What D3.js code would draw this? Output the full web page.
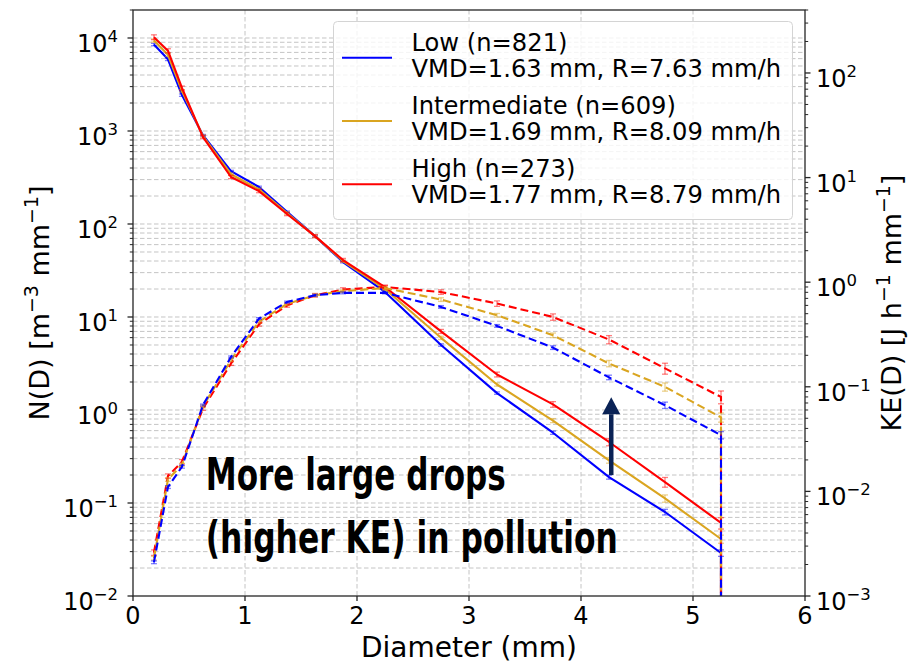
<!DOCTYPE html>
<html><head><meta charset="utf-8">
<script src="https://cdn.jsdelivr.net/npm/d3@7/dist/d3.min.js"></script>
<style>
body{margin:0;background:#fff}
svg{display:block}
text{font-family:'DejaVu Sans',sans-serif;fill:#000}
</style>
</head><body>
<svg id="chart" width="917" height="663"></svg>
<script>
// ---------------- data ----------------
const diameters = [0.187, 0.312, 0.437, 0.625, 0.875, 1.125, 1.375, 1.625, 1.875, 2.25, 2.75, 3.25, 3.75, 4.25, 4.75, 5.25, 5.75];
const groups = ["Low", "Intermediate", "High"];
const groupN = [821, 609, 273];
const groupVMD = ["1.63", "1.69", "1.77"];
const groupR = ["7.63", "8.09", "8.79"];
const groupColors = ["#0000ff", "#daa520", "#ff0000"];

// N(D) [m^-3 mm^-1]; last bin (5.75 mm) has no drops
const nLow  = [8500, 5900, 2430, 900, 370, 250, 135, 74, 39, 18.6, 5.0, 1.52, 0.57, 0.19, 0.080, 0.029, 0];
const nMid  = [9400, 6600, 2700, 880, 343, 236, 131, 74, 40, 20.0, 5.97, 1.88, 0.77, 0.288, 0.112, 0.041, 0];
const nHigh = [10200, 7300, 2900, 860, 320, 226, 128, 74, 41, 21.0, 7.0, 2.41, 1.15, 0.453, 0.168, 0.061, 0];

// KE(D) [J h^-1 mm^-1]
const keLow  = [0.0021, 0.011, 0.0172, 0.067, 0.193, 0.449, 0.646, 0.75, 0.79, 0.79, 0.58, 0.382, 0.237, 0.123, 0.0667, 0.0345, 0];
const keMid  = [0.0023, 0.013, 0.018, 0.065, 0.18, 0.42, 0.62, 0.75, 0.82, 0.88, 0.682, 0.483, 0.311, 0.167, 0.0998, 0.051, 0];
const keHigh = [0.0026, 0.014, 0.0192, 0.062, 0.167, 0.396, 0.60, 0.75, 0.85, 0.90, 0.805, 0.625, 0.465, 0.283, 0.150, 0.080, 0];

// relative standard error per bin
const errLow  = [0.03, 0.03, 0.03, 0.02, 0.02, 0.02, 0.02, 0.02, 0.02, 0.02, 0.03, 0.03, 0.04, 0.05, 0.07, 0.08, 0];
const errMid  = [0.04, 0.04, 0.03, 0.03, 0.03, 0.03, 0.03, 0.03, 0.03, 0.03, 0.04, 0.04, 0.05, 0.07, 0.09, 0.10, 0];
const errHigh = [0.06, 0.05, 0.05, 0.04, 0.04, 0.04, 0.04, 0.04, 0.04, 0.04, 0.05, 0.06, 0.07, 0.09, 0.12, 0.14, 0];

const xTicks = [0, 1, 2, 3, 4, 5, 6];
const nDomain = [0.01, 20000];
const keDomain = [0.001, 400];
const nMajorExps = [-2, -1, 0, 1, 2, 3, 4];
const keMajorExps = [-3, -2, -1, 0, 1, 2];

const annotationLines = ["More large drops", "(higher KE) in pollution"];
const annotationX = 0.65;            // mm
const annotationY = [0.138, 0.029];  // N(D) units (baselines)
const arrowX = 4.27;
const arrowFrom = 0.2, arrowTo = 1.37; // N(D) units

// ---------------- layout ----------------
const svg = d3.select("#chart");
const L = 133, R = 805, T = 10, B = 596;
const x = d3.scaleLinear().domain([0, 6]).range([L, R]);
const yN = d3.scaleLog().domain(nDomain).range([B, T]);
const yK = d3.scaleLog().domain(keDomain).range([B, T]);

svg.append("defs").append("clipPath").attr("id", "plotclip")
  .append("rect").attr("x", L).attr("y", T).attr("width", R - L).attr("height", B - T);

// ---------------- grid ----------------
const grid = svg.append("g");
function minorTicks(domain) {
  const out = [];
  const e0 = Math.floor(Math.log10(domain[0])), e1 = Math.ceil(Math.log10(domain[1]));
  for (let e = e0; e <= e1; e++) for (let m = 1; m <= 9; m++) {
    const v = m * Math.pow(10, e);
    if (v >= domain[0] * 0.999 && v <= domain[1] * 1.001) out.push({v, major: m === 1});
  }
  return out;
}
const nTicks = minorTicks(nDomain);
const kTicks = minorTicks(keDomain);
grid.selectAll("line.h").data(nTicks.filter(d => yN(d.v) > T + 0.5 && yN(d.v) < B - 0.5)).join("line")
  .attr("x1", L).attr("x2", R).attr("y1", d => yN(d.v)).attr("y2", d => yN(d.v))
  .attr("stroke", "#c4c4c4").attr("stroke-width", 1).attr("stroke-dasharray", "4.5,2.5");
grid.selectAll("line.v").data(xTicks.filter(t => t > 0 && t < 6)).join("line")
  .attr("x1", d => x(d)).attr("x2", d => x(d)).attr("y1", T).attr("y2", B)
  .attr("stroke", "#c4c4c4").attr("stroke-width", 1).attr("stroke-dasharray", "4.5,2.5");

// ---------------- lines ----------------
const plot = svg.append("g").attr("clip-path", "url(#plotclip)");
const nSeries = [nLow, nMid, nHigh];
const kSeries = [keLow, keMid, keHigh];
const errSeries = [errLow, errMid, errHigh];

function pts(vals, scale) {
  // zero values are clipped on the log axis: the line drops straight down
  const out = [];
  vals.forEach((v, i) => {
    if (v > 0) out.push([x(diameters[i]), scale(v)]);
    else out.push([out[out.length - 1][0], B + 20]);
  });
  return out;
}
const line = d3.line();

function drawErr(vals, errs, scale, color) {
  const g = plot.append("g").attr("stroke", color).attr("stroke-opacity", 0.5).attr("stroke-width", 1.3);
  vals.forEach((v, i) => {
    if (!(v > 0)) return;
    const cx = x(diameters[i]);
    const y1 = scale(v * (1 - errs[i])), y2 = scale(v * (1 + errs[i]));
    g.append("line").attr("x1", cx).attr("x2", cx).attr("y1", y1).attr("y2", y2);
    g.append("line").attr("x1", cx - 3).attr("x2", cx + 3).attr("y1", y1).attr("y2", y1);
    g.append("line").attr("x1", cx - 3).attr("x2", cx + 3).attr("y1", y2).attr("y2", y2);
  });
}

[0, 1, 2].forEach(i => {
  drawErr(nSeries[i], errSeries[i], yN, groupColors[i]);
  plot.append("path").attr("d", line(pts(nSeries[i], yN)))
    .attr("fill", "none").attr("stroke", groupColors[i]).attr("stroke-width", 2.1).attr("stroke-linejoin", "round");
});
[2, 1, 0].forEach(i => {
  drawErr(kSeries[i], errSeries[i], yK, groupColors[i]);
  plot.append("path").attr("d", line(pts(kSeries[i], yK)))
    .attr("fill", "none").attr("stroke", groupColors[i]).attr("stroke-width", 2.1)
    .attr("stroke-dasharray", "8,4");
});

// ---------------- axes ----------------
const ax = svg.append("g");
const spine = "#262626";
ax.append("rect").attr("x", L).attr("y", T).attr("width", R - L).attr("height", B - T)
  .attr("fill", "none").attr("stroke", spine).attr("stroke-width", 1.3);

// x ticks
xTicks.forEach(t => {
  ax.append("line").attr("x1", x(t)).attr("x2", x(t)).attr("y1", B).attr("y2", B + 5).attr("stroke", spine).attr("stroke-width", 1.3);
  ax.append("text").attr("x", x(t)).attr("y", 624).attr("text-anchor", "middle").attr("font-size", 24).text(t);
});

function powLabel(x0, y0, exp, anchor) {
  const t = ax.append("text").attr("x", x0).attr("y", y0).attr("text-anchor", anchor).attr("font-size", 24);
  t.append("tspan").text("10");
  t.append("tspan").attr("dy", -10).attr("font-size", 16.5).text(exp < 0 ? "\u2212" + Math.abs(exp) : String(exp));
}

// left ticks
nTicks.forEach(d => {
  const yy = yN(d.v);
  ax.append("line").attr("x1", L).attr("x2", L - (d.major ? 5.5 : 3.2)).attr("y1", yy).attr("y2", yy)
    .attr("stroke", spine).attr("stroke-width", d.major ? 1.3 : 1);
});
nMajorExps.forEach(e => powLabel(118, yN(Math.pow(10, e)) + 14, e, "end"));

// right ticks
kTicks.forEach(d => {
  const yy = yK(d.v);
  ax.append("line").attr("x1", R).attr("x2", R + (d.major ? 5.5 : 3.2)).attr("y1", yy).attr("y2", yy)
    .attr("stroke", spine).attr("stroke-width", d.major ? 1.3 : 1);
});
keMajorExps.forEach(e => powLabel(816, yK(Math.pow(10, e)) + 14, e, "start"));

function richLabel(g, parts, size) {
  let raised = false;
  parts.forEach(([t, s]) => {
    const ts = g.append("tspan").text(t);
    if (s) { ts.attr("font-size", size * 0.7); if (!raised) { ts.attr("dy", -size * 0.42); raised = true; } }
    else if (raised) { ts.attr("dy", size * 0.42); raised = false; }
  });
}
const labelSize = 27;
const ylab = ax.append("text").attr("transform", `translate(49,${(T + B) / 2}) rotate(-90)`)
  .attr("text-anchor", "middle").attr("font-size", labelSize);
richLabel(ylab, [["N(D) [m", false], ["\u22123", true], [" mm", false], ["\u22121", true], ["]", false]], labelSize);
const ylab2 = ax.append("text").attr("transform", `translate(901,${(T + B) / 2}) rotate(-90)`)
  .attr("text-anchor", "middle").attr("font-size", labelSize);
richLabel(ylab2, [["KE(D) [J h", false], ["\u22121", true], [" mm", false], ["\u22121", true], ["]", false]], labelSize);
ax.append("text").attr("x", (L + R) / 2).attr("y", 657).attr("text-anchor", "middle")
  .attr("font-size", 28).text("Diameter (mm)");

// ---------------- legend ----------------
const lg = svg.append("g");
lg.append("rect").attr("x", 333.5).attr("y", 21.5).attr("width", 459).attr("height", 198).attr("rx", 4)
  .attr("fill", "#fff").attr("fill-opacity", 0.8).attr("stroke", "#d4d4d4").attr("stroke-width", 1);
groups.forEach((g, i) => {
  const y0 = 57.7 + i * 63.3;
  lg.append("line").attr("x1", 342).attr("x2", 392).attr("y1", y0).attr("y2", y0)
    .attr("stroke", groupColors[i]).attr("stroke-width", 2.1);
  lg.append("text").attr("x", 411.5).attr("y", y0 - 7).attr("font-size", 24.2).text(`${g} (n=${groupN[i]})`);
  lg.append("text").attr("x", 411.5).attr("y", y0 + 19).attr("font-size", 24.2)
    .text(`VMD=${groupVMD[i]} mm, R=${groupR[i]} mm/h`);
});

// ---------------- annotation ----------------
const an = svg.append("g");
const annWidths = [300, 412];
annotationLines.forEach((t, i) => {
  an.append("text").attr("x", x(annotationX)).attr("y", yN(annotationY[i]))
    .attr("font-family", "'Liberation Sans Narrow','DejaVu Sans Condensed','Roboto',sans-serif")
    .attr("font-weight", "bold").attr("font-size", 45)
    .attr("textLength", annWidths[i]).attr("lengthAdjust", "spacingAndGlyphs").text(t);
});
const ax0 = x(arrowX), ay0 = yN(arrowFrom), ay1 = yN(arrowTo);
const navy = "#0a2255";
an.append("line").attr("x1", ax0).attr("x2", ax0).attr("y1", ay0).attr("y2", ay1 + 17)
  .attr("stroke", navy).attr("stroke-width", 4.5);
an.append("path").attr("d", `M${ax0 - 9},${ay1 + 17} L${ax0 + 9},${ay1 + 17} L${ax0},${ay1} Z`).attr("fill", navy);
</script>
</body></html>
